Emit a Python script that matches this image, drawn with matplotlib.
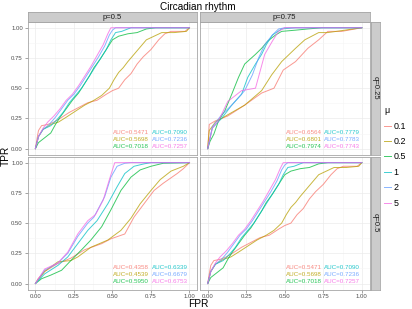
import matplotlib
matplotlib.use("Agg")
import matplotlib.pyplot as plt
import numpy as np

plt.rcParams['font.family'] = ['Liberation Sans', 'DejaVu Sans']

# ---- data ----
mu_labels = ['0.1', '0.2', '0.5', '1', '2', '5']
colors = ['#F8766D', '#B79F00', '#00BA38', '#00BFC4', '#619CFF', '#F564E3']
col_labels = ['p=0.5', 'p=0.75']
row_labels = ['q=0.25', 'q=0.5']

# curves for p=0.5,q=0.25 (same as p=0.75,q=0.5)
a_fpr = [
    [0, 0.01, 0.02, 0.04, 0.08, 0.12, 0.16, 0.22, 0.28, 0.34, 0.40, 0.46, 0.50, 0.54, 0.58, 0.62, 0.66, 0.70, 0.75, 0.80, 0.84, 0.88, 0.97, 1],
    [0, 0.02, 0.05, 0.10, 0.15, 0.20, 0.26, 0.32, 0.38, 0.43, 0.48, 0.51, 0.54, 0.57, 0.60, 0.64, 0.68, 0.72, 0.77, 0.82, 0.90, 0.98, 1],
    [0, 0.02, 0.06, 0.10, 0.13, 0.16, 0.20, 0.24, 0.28, 0.31, 0.35, 0.38, 0.42, 0.46, 0.50, 0.54, 0.60, 0.66, 0.72, 0.78, 1],
    [0, 0.02, 0.05, 0.10, 0.14, 0.18, 0.22, 0.26, 0.30, 0.34, 0.38, 0.42, 0.46, 0.49, 0.52, 0.56, 0.60, 0.62, 1],
    [0, 0.02, 0.05, 0.09, 0.13, 0.17, 0.21, 0.25, 0.29, 0.33, 0.37, 0.41, 0.45, 0.48, 0.50, 0.52, 1],
    [0, 0.02, 0.05, 0.08, 0.12, 0.16, 0.20, 0.24, 0.28, 0.32, 0.36, 0.40, 0.44, 0.47, 0.49, 1],
]
a_tpr = [
    [0, 0.08, 0.15, 0.19, 0.20, 0.22, 0.25, 0.30, 0.34, 0.38, 0.40, 0.45, 0.48, 0.50, 0.57, 0.62, 0.70, 0.76, 0.82, 0.90, 0.95, 0.97, 0.97, 1],
    [0, 0.10, 0.16, 0.20, 0.22, 0.26, 0.31, 0.36, 0.40, 0.44, 0.50, 0.57, 0.63, 0.67, 0.72, 0.78, 0.84, 0.90, 0.93, 0.96, 0.96, 0.97, 1],
    [0, 0.05, 0.09, 0.13, 0.20, 0.26, 0.33, 0.40, 0.46, 0.52, 0.60, 0.67, 0.74, 0.82, 0.90, 0.93, 0.95, 0.96, 0.99, 1.0, 1],
    [0, 0.10, 0.16, 0.19, 0.24, 0.30, 0.38, 0.44, 0.50, 0.58, 0.66, 0.74, 0.82, 0.90, 0.96, 0.97, 0.99, 1.0, 1],
    [0, 0.10, 0.16, 0.20, 0.26, 0.33, 0.40, 0.45, 0.52, 0.60, 0.68, 0.76, 0.85, 0.94, 0.98, 1.0, 1],
    [0, 0.10, 0.17, 0.22, 0.27, 0.33, 0.40, 0.45, 0.52, 0.60, 0.68, 0.77, 0.86, 0.95, 1.0, 1],
]
a_auc = ['0.5471', '0.5698', '0.7018', '0.7090', '0.7236', '0.7257']

# p=0.75, q=0.25
b_fpr = [
    [0, 0.01, 0.05, 0.13, 0.24, 0.35, 0.43, 0.49, 0.57, 0.65, 0.72, 0.78, 0.87, 1],
    [0, 0.01, 0.05, 0.13, 0.24, 0.35, 0.415, 0.48, 0.57, 0.63, 0.72, 0.78, 1],
    [0, 0.015, 0.04, 0.07, 0.11, 0.156, 0.20, 0.24, 0.31, 0.35, 0.39, 0.44, 0.48, 0.57, 0.65, 0.74, 1],
    [0, 0.03, 0.09, 0.156, 0.22, 0.26, 0.31, 0.35, 0.38, 0.42, 0.48, 0.57, 1],
    [0, 0.03, 0.09, 0.156, 0.24, 0.29, 0.33, 0.37, 0.42, 0.46, 0.50, 1],
    [0, 0.03, 0.07, 0.13, 0.22, 0.31, 0.34, 0.37, 0.42, 0.46, 0.50, 1],
]
b_tpr = [
    [0, 0.20, 0.23, 0.27, 0.36, 0.46, 0.50, 0.65, 0.72, 0.83, 0.90, 0.97, 0.97, 1],
    [0, 0.15, 0.22, 0.28, 0.36, 0.48, 0.61, 0.72, 0.83, 0.90, 0.96, 0.96, 1],
    [0, 0.06, 0.12, 0.23, 0.31, 0.45, 0.59, 0.70, 0.78, 0.83, 0.89, 0.94, 0.97, 0.98, 0.99, 1.0, 1],
    [0, 0.17, 0.25, 0.36, 0.45, 0.59, 0.70, 0.78, 0.86, 0.94, 0.99, 1.0, 1],
    [0, 0.18, 0.28, 0.36, 0.48, 0.61, 0.75, 0.86, 0.94, 0.99, 1.0, 1],
    [0, 0.17, 0.23, 0.39, 0.48, 0.50, 0.64, 0.78, 0.89, 0.97, 1.0, 1],
]
b_auc = ['0.6564', '0.6801', '0.7974', '0.7779', '0.7783', '0.7743']

# p=0.5, q=0.5
c_fpr = [
    [0, 0.017, 0.06, 0.146, 0.23, 0.32, 0.43, 0.49, 0.58, 0.64, 0.705, 0.77, 0.83, 0.92, 0.96, 1],
    [0, 0.06, 0.146, 0.23, 0.275, 0.36, 0.47, 0.555, 0.62, 0.68, 0.75, 0.81, 0.88, 0.96, 1],
    [0, 0.04, 0.10, 0.17, 0.23, 0.30, 0.36, 0.43, 0.49, 0.555, 0.62, 0.68, 0.75, 0.83, 1],
    [0, 0.06, 0.146, 0.21, 0.275, 0.34, 0.40, 0.47, 0.53, 0.58, 0.64, 0.705, 0.75, 1],
    [0, 0.06, 0.146, 0.21, 0.275, 0.34, 0.38, 0.45, 0.49, 0.53, 0.58, 0.62, 1],
    [0, 0.06, 0.146, 0.21, 0.275, 0.34, 0.39, 0.44, 0.48, 0.515, 1],
]
c_tpr = [
    [0, 0.04, 0.10, 0.166, 0.21, 0.28, 0.33, 0.37, 0.41, 0.55, 0.66, 0.77, 0.83, 0.91, 0.95, 1],
    [0, 0.10, 0.18, 0.19, 0.22, 0.30, 0.36, 0.44, 0.54, 0.66, 0.77, 0.86, 0.93, 0.97, 1],
    [0, 0.04, 0.07, 0.11, 0.19, 0.28, 0.36, 0.47, 0.61, 0.77, 0.88, 0.94, 0.97, 0.995, 1],
    [0, 0.08, 0.15, 0.22, 0.33, 0.44, 0.52, 0.66, 0.80, 0.91, 0.97, 0.99, 1.0, 1],
    [0, 0.11, 0.17, 0.25, 0.39, 0.50, 0.55, 0.72, 0.88, 0.97, 0.995, 1.0, 1],
    [0, 0.12, 0.17, 0.26, 0.41, 0.52, 0.57, 0.69, 0.86, 1.0, 1],
]
c_auc = ['0.4358', '0.4539', '0.5950', '0.6339', '0.6679', '0.6753']

panels = {
    (0, 0): (a_fpr, a_tpr, a_auc),
    (0, 1): (b_fpr, b_tpr, b_auc),
    (1, 0): (c_fpr, c_tpr, c_auc),
    (1, 1): (a_fpr, a_tpr, a_auc),
}

W, H = 412, 309
fig = plt.figure(figsize=(W / 100, H / 100), dpi=100)

lefts = [27.7, 200.0]
width = 169.5
tops = [21.7, 156.6]
height = 133.0
grid_major = [0, 0.25, 0.5, 0.75, 1.0]
grid_minor = [0.125, 0.375, 0.625, 0.875]
tick_txt = ['0.00', '0.25', '0.50', '0.75', '1.00']

axes = {}
for r in range(2):
    for c in range(2):
        ax = fig.add_axes([lefts[c] / W, 1 - (tops[r] + height) / H, width / W, height / H])
        axes[(r, c)] = ax
        fpr, tpr, auc = panels[(r, c)]
        for k in range(6):
            ax.plot(fpr[k], tpr[k], color=colors[k], lw=0.7, alpha=0.75, label=mu_labels[k])
        for k in range(6):
            colx = 0.505 if k < 3 else 0.755
            rowy = [0.135, 0.077, 0.019][k % 3]
            ax.text(colx, rowy, 'AUC=' + auc[k], color=colors[k], fontsize=4.5,
                    ha='left', va='center', alpha=0.85)
        ax.set_xlim(-0.05, 1.05)
        ax.set_ylim(-0.05, 1.05)
        ax.set_xticks(grid_major)
        ax.set_yticks(grid_major)
        ax.set_xticks(grid_minor, minor=True)
        ax.set_yticks(grid_minor, minor=True)
        ax.grid(which='major', color='#EBEBEB', lw=0.5)
        ax.grid(which='minor', color='#F5F5F5', lw=0.4)
        ax.set_axisbelow(True)
        ax.tick_params(which='minor', length=0)
        ax.tick_params(which='major', length=2, width=0.5, color='#7F7F7F',
                       labelsize=4.3, labelcolor='#4D4D4D', pad=1.5)
        ax.set_xticklabels(tick_txt if r == 1 else [])
        ax.set_yticklabels(tick_txt if c == 0 else [])
        if r == 0:
            ax.tick_params(axis='x', length=0)
        if c == 1:
            ax.tick_params(axis='y', length=0)
        for s in ax.spines.values():
            s.set_color('#A6A6A6')
            s.set_linewidth(0.6)

# facet strips
for c in range(2):
    sx = fig.add_axes([lefts[c] / W, 1 - 21.7 / H, width / W, 10.0 / H])
    sx.set_facecolor('#CCCCCC')
    sx.set_xticks([])
    sx.set_yticks([])
    for s in sx.spines.values():
        s.set_color('#A6A6A6')
        s.set_linewidth(0.6)
    sx.text(0.5, 0.45, col_labels[c], ha='center', va='center', fontsize=5.5, color='#1A1A1A')
for r in range(2):
    sy = fig.add_axes([370.7 / W, 1 - (tops[r] + height) / H, 8.8 / W, height / H])
    sy.set_facecolor('#CCCCCC')
    sy.set_xticks([])
    sy.set_yticks([])
    for s in sy.spines.values():
        s.set_color('#A6A6A6')
        s.set_linewidth(0.6)
    sy.text(0.5, 0.5, row_labels[r], ha='center', va='center', rotation=-90,
            fontsize=5.5, color='#1A1A1A')

fig.text(198 / W, 1 - 6.5 / H, 'Circadian rhythm', ha='center', va='center', fontsize=7.2)
fig.text(198 / W, 1 - 304.3 / H, 'FPR', ha='center', va='center', fontsize=7.3)
fig.text(6 / W, 1 - 156 / H, 'TPR', ha='center', va='center', rotation=90, fontsize=7.3)

handles, labels = axes[(0, 0)].get_legend_handles_labels()
leg = fig.legend(handles, labels, title='μ', loc='upper left',
                 bbox_to_anchor=(378 / W, 1 - 100 / H), frameon=False,
                 fontsize=6.4, title_fontsize=6.4, handlelength=0.8,
                 handletextpad=0.25, labelspacing=0.72, borderpad=0.2)
leg._legend_box.align = 'left'

fig.savefig('out.png', dpi=100)
